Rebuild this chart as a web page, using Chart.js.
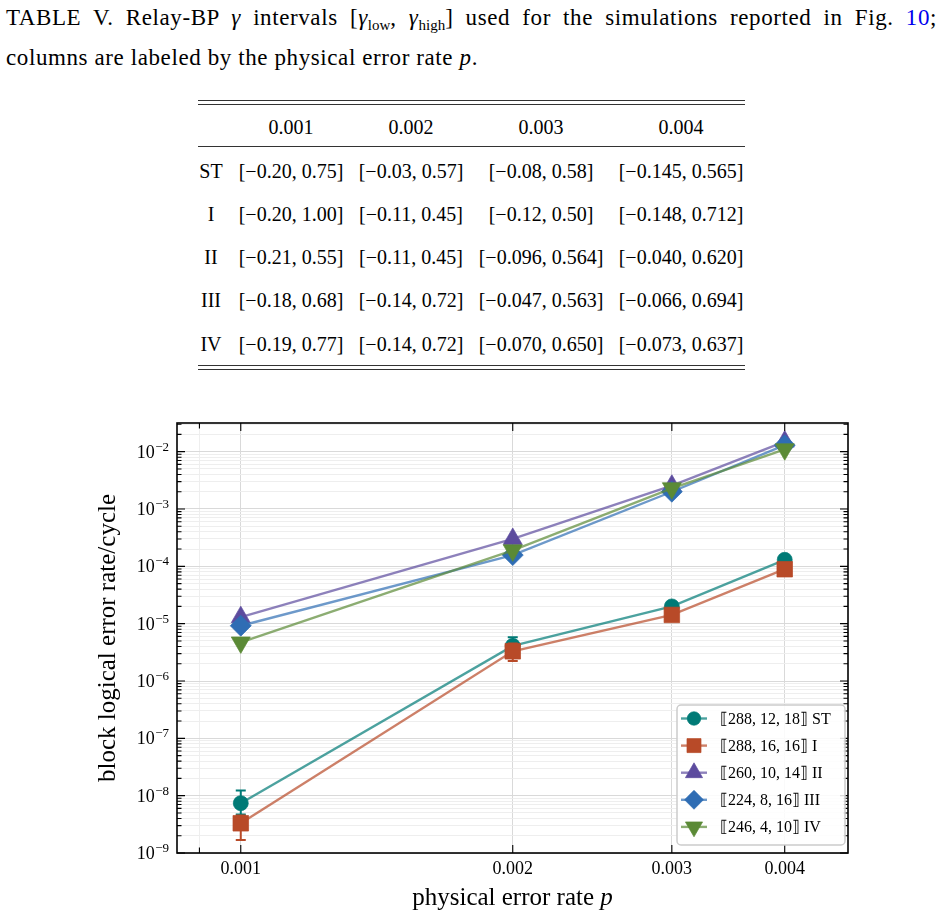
<!DOCTYPE html>
<html>
<head>
<meta charset="utf-8">
<script src="https://cdn.jsdelivr.net/npm/chart.js@4.4.1/dist/chart.umd.min.js"></script>
<style>
  html, body { margin: 0; padding: 0; background: #fff; }
  body { width: 943px; height: 916px; position: relative; overflow: hidden;
         font-family: "Liberation Serif", "DejaVu Serif", serif; color: #000; }
  .cap { position: absolute; left: 6px; width: 931px; font-size: 23px; line-height: 28px; letter-spacing: 0.6px; }
  #cap1 { top: 4px; text-align: justify; text-align-last: justify; }
  #cap2 { top: 44px; }
  .cap sub { font-size: 15px; vertical-align: -5px; line-height: 0; letter-spacing: 0; }
  .rule { position: absolute; left: 198px; width: 547px; height: 0; border-top: 1.3px solid #333; }
  .cell { position: absolute; transform: translate(-50%, -50%); font-size: 20px; white-space: nowrap; line-height: 1; }
  #plot { position: absolute; left: 0; top: 400px; }
</style>
</head>
<body>
<div class="cap" id="cap1">TABLE V. Relay-BP <i>γ</i> intervals [<i>γ</i><sub>low</sub>, <i>γ</i><sub>high</sub>] used for the simulations reported in Fig. <span style="color:#0000ee">10</span>;</div>
<div class="cap" id="cap2">columns are labeled by the physical error rate <i>p</i>.</div>
<div id="table"></div>
<canvas id="plot" width="943" height="516"></canvas>
<script>
// table V: gamma intervals per code, columns = physical error rate
const tableRates = ['0.001', '0.002', '0.003', '0.004'];
const tableCodes = ['ST', 'I', 'II', 'III', 'IV'];
const gammaST = ['[−0.20, 0.75]', '[−0.03, 0.57]', '[−0.08, 0.58]', '[−0.145, 0.565]'];
const gammaI = ['[−0.20, 1.00]', '[−0.11, 0.45]', '[−0.12, 0.50]', '[−0.148, 0.712]'];
const gammaII = ['[−0.21, 0.55]', '[−0.11, 0.45]', '[−0.096, 0.564]', '[−0.040, 0.620]'];
const gammaIII = ['[−0.18, 0.68]', '[−0.14, 0.72]', '[−0.047, 0.563]', '[−0.066, 0.694]'];
const gammaIV = ['[−0.19, 0.77]', '[−0.14, 0.72]', '[−0.070, 0.650]', '[−0.073, 0.637]'];

// Fig. data: block logical error rate per cycle vs physical error rate
const errorRates = [0.001, 0.002, 0.003, 0.004];
const seriesLabels = ['⟦288, 12, 18⟧ ST', '⟦288, 16, 16⟧ I', '⟦260, 10, 14⟧ II', '⟦224, 8, 16⟧ III', '⟦246, 4, 10⟧ IV'];
const rateST = [7.4e-9, 4.1e-6, 2.0e-5, 1.3e-4];
const rateSTLow = [4.7e-9, 3.0e-6, null, null];
const rateSTHigh = [1.23e-8, 5.8e-6, null, null];
const rateI = [3.3e-9, 3.3e-6, 1.42e-5, 8.9e-5];
const rateILow = [1.68e-9, 2.24e-6, null, null];
const rateIHigh = [4.5e-9, 4.5e-6, null, null];
const rateII = [1.3e-5, 3.0e-4, 2.55e-3, 1.5e-2];
const rateIII = [9.2e-6, 1.57e-4, 2.0e-3, 1.3e-2];
const rateIV = [4.7e-6, 1.9e-4, 2.3e-3, 1.1e-2];

const xTicks = [0.0009, 0.001, 0.002, 0.003, 0.004];
const xTickLabels = ['', '0.001', '0.002', '0.003', '0.004'];
const yDecades = [-9, -8, -7, -6, -5, -4, -3, -2];

const SERIF = '"Liberation Serif", "DejaVu Serif", serif';

function buildTable() {
  const host = document.getElementById('table');
  const colX = [211, 291, 411, 541, 681];
  const headY = 127;
  const rowY = [171, 214, 257, 300, 344];
  const rows = [gammaST, gammaI, gammaII, gammaIII, gammaIV];
  let html = '';
  [100, 103.5, 146, 365, 368.5].forEach((y) => {
    html += `<div class="rule" style="top:${y}px"></div>`;
  });
  tableRates.forEach((r, i) => {
    html += `<div class="cell" style="left:${colX[i + 1]}px;top:${headY}px">${r}</div>`;
  });
  tableCodes.forEach((c, j) => {
    html += `<div class="cell" style="left:${colX[0]}px;top:${rowY[j]}px">${c}</div>`;
    rows[j].forEach((g, i) => {
      html += `<div class="cell" style="left:${colX[i + 1]}px;top:${rowY[j]}px">${g}</div>`;
    });
  });
  host.innerHTML = html;
}

function isDecade(v) {
  const l = Math.log10(v);
  return Math.abs(l - Math.round(l)) < 1e-9;
}

function toPoints(ys) {
  return ys.map((y, i) => ({ x: errorRates[i], y: y }));
}

function rgba(hex, a) {
  const n = parseInt(hex.slice(1), 16);
  return `rgba(${(n >> 16) & 255}, ${(n >> 8) & 255}, ${n & 255}, ${a})`;
}

const yMin = 1e-9;
const yMax = Math.pow(10, -1.5);

const markerColors = ['#007a76', '#b84a28', '#5c4b9e', '#2f6db4', '#5b8a36'];
const pointStyles = ['circle', 'rect', 'triangle', 'rectRot', 'triangle'];
const pointRotations = [0, 0, 0, 0, 180];
const pointRadii = [7.5, 11, 11, 10.5, 11];
const seriesValues = [rateST, rateI, rateII, rateIII, rateIV];
const seriesLow = [rateSTLow, rateILow, null, null, null];
const seriesHigh = [rateSTHigh, rateIHigh, null, null, null];

// a marker drawer for the legend (same shapes Chart.js uses)
function drawMarker(ctx, style, rotation, radius, x, y) {
  if (Chart.helpers && Chart.helpers.drawPoint) {
    Chart.helpers.drawPoint(ctx, { pointStyle: style, rotation: rotation, radius: radius, borderWidth: 1 }, x, y);
    return;
  }
  ctx.beginPath();
  ctx.arc(x, y, radius, 0, Math.PI * 2);
  ctx.fill();
}

const plotDecor = {
  id: 'plotDecor',
  beforeDatasetDraw(chart, args) {
    // error bars under each series' own markers
    const ds = chart.data.datasets[args.index];
    if (!ds.errLow) return;
    const ctx = chart.ctx;
    const xs = chart.scales.x, ys = chart.scales.y;
    ctx.save();
    ctx.strokeStyle = ds.pointBackgroundColor;
    ctx.lineWidth = 2;
    ds.errLow.forEach((lo, j) => {
      if (lo == null) return;
      const x = xs.getPixelForValue(errorRates[j]);
      const y1 = ys.getPixelForValue(lo);
      const y2 = ys.getPixelForValue(ds.errHigh[j]);
      ctx.beginPath();
      ctx.moveTo(x, y1); ctx.lineTo(x, y2);
      ctx.moveTo(x - 5, y1); ctx.lineTo(x + 5, y1);
      ctx.moveTo(x - 5, y2); ctx.lineTo(x + 5, y2);
      ctx.stroke();
    });
    ctx.restore();
  },
  afterDatasetsDraw(chart) {
    const ctx = chart.ctx;
    const a = chart.chartArea;
    const xs = chart.scales.x, ys = chart.scales.y;
    ctx.save();
    // inward ticks on all four sides
    ctx.strokeStyle = '#000';
    ctx.lineWidth = 1.1;
    ctx.beginPath();
    xTicks.forEach((v) => {
      const x = xs.getPixelForValue(v);
      const len = v < 0.001 ? 5.5 : 8;
      ctx.moveTo(x, a.bottom); ctx.lineTo(x, a.bottom - len);
      ctx.moveTo(x, a.top); ctx.lineTo(x, a.top + len);
    });
    ys.ticks.forEach((t) => {
      const y = ys.getPixelForValue(t.value);
      const len = isDecade(t.value) ? 8 : 4.5;
      ctx.moveTo(a.left, y); ctx.lineTo(a.left + len, y);
      ctx.moveTo(a.right, y); ctx.lineTo(a.right - len, y);
    });
    ctx.stroke();
    // frame
    ctx.lineWidth = 1.6;
    ctx.strokeRect(a.left, a.top, a.right - a.left, a.bottom - a.top);
    ctx.restore();
  },
  afterDraw(chart) {
    const ctx = chart.ctx;
    const a = chart.chartArea;
    const ys = chart.scales.y;
    ctx.save();
    ctx.fillStyle = '#000';
    // y tick labels as 10^k
    yDecades.forEach((k) => {
      const y = ys.getPixelForValue(Math.pow(10, k));
      const right = a.left - 8;
      ctx.font = `13px ${SERIF}`;
      const sup = '−' + Math.abs(k);
      const supW = ctx.measureText(sup).width;
      ctx.textBaseline = 'alphabetic';
      ctx.textAlign = 'left';
      ctx.fillText(sup, right - supW, y - 1);
      ctx.font = `18px ${SERIF}`;
      const baseW = ctx.measureText('10').width;
      ctx.fillText('10', right - supW - baseW - 0.5, y + 6);
    });
    // x axis title with italic p
    ctx.font = `25px ${SERIF}`;
    const t1 = 'physical error rate ';
    const w1 = ctx.measureText(t1).width;
    ctx.font = `italic 25px ${SERIF}`;
    const w2 = ctx.measureText('p').width;
    const cx = (a.left + a.right) / 2;
    const x0 = cx - (w1 + w2) / 2;
    const by = a.bottom + 52;
    ctx.font = `25px ${SERIF}`;
    ctx.fillText(t1, x0, by);
    ctx.font = `italic 25px ${SERIF}`;
    ctx.fillText('p', x0 + w1, by);

    // legend inside lower right
    const boxR = a.right - 3, boxB = a.bottom - 8;
    const boxL = boxR - 168, boxT = boxB - 140;
    ctx.beginPath();
    if (ctx.roundRect) ctx.roundRect(boxL, boxT, boxR - boxL, boxB - boxT, 4);
    else ctx.rect(boxL, boxT, boxR - boxL, boxB - boxT);
    ctx.fillStyle = 'rgba(255,255,255,0.85)';
    ctx.fill();
    ctx.strokeStyle = '#cccccc';
    ctx.lineWidth = 1.5;
    ctx.stroke();
    chart.data.datasets.forEach((ds, i) => {
      const y = boxT + 13.5 + i * 27.1;
      const lx = boxL + 4;
      ctx.strokeStyle = ds.borderColor;
      ctx.lineWidth = 2.4;
      ctx.beginPath();
      ctx.moveTo(lx, y); ctx.lineTo(lx + 26, y);
      ctx.stroke();
      ctx.fillStyle = ds.pointBackgroundColor;
      ctx.strokeStyle = ds.pointBorderColor;
      ctx.lineWidth = 1;
      drawMarker(ctx, ds.pointStyle, ds.pointRotation, ds.pointRadius * 0.9, lx + 13, y);
      ctx.fillStyle = '#000';
      ctx.font = `16px ${SERIF}`;
      ctx.textBaseline = 'middle';
      ctx.textAlign = 'left';
      ctx.fillText(ds.label, boxL + 43, y + 1);
    });
    ctx.restore();
  }
};

function initChart() {
  const datasets = seriesValues.map((vals, i) => ({
    label: seriesLabels[i],
    data: toPoints(vals),
    borderColor: rgba(markerColors[i], 0.7),
    borderWidth: 2.4,
    pointBackgroundColor: markerColors[i],
    pointBorderColor: rgba(markerColors[i], 0.7),
    pointBorderWidth: 1,
    pointStyle: pointStyles[i],
    pointRotation: pointRotations[i],
    pointRadius: pointRadii[i],
    fill: false,
    tension: 0,
    order: 5 - i,
    errLow: seriesLow[i],
    errHigh: seriesHigh[i],
  }));

  const yGridTicks = [];
  yDecades.forEach((k) => {
    for (let m = 1; m <= 9; m++) {
      const v = m * Math.pow(10, k);
      if (v <= yMax) yGridTicks.push(v);
    }
  });

  new Chart(document.getElementById('plot'), {
    type: 'line',
    data: { datasets: datasets },
    options: {
      responsive: false,
      animation: false,
      devicePixelRatio: 1,
      layout: { padding: { left: 96, right: 95, top: 23, bottom: 0 } },
      plugins: { legend: { display: false }, tooltip: { enabled: false } },
      scales: {
        x: {
          type: 'logarithmic',
          min: 0.00085,
          max: 0.0047,
          afterBuildTicks: (s) => { s.ticks = xTicks.map((v) => ({ value: v })); },
          afterFit: (s) => { s.height = 63; },
          grid: {
            drawTicks: false,
            color: (c) => (c.tick && c.tick.value < 0.00099 ? '#eeeeee' : '#d9d9d9'),
            lineWidth: 1,
          },
          border: { display: false },
          ticks: {
            autoSkip: false,
            maxRotation: 0,
            padding: 5,
            color: '#000',
            font: { family: SERIF, size: 18 },
            callback: (v) => {
              const i = xTicks.findIndex((t) => Math.abs(t - v) < 1e-12);
              return i >= 0 ? xTickLabels[i] : '';
            },
          },
        },
        y: {
          type: 'logarithmic',
          min: yMin,
          max: yMax,
          afterBuildTicks: (s) => { s.ticks = yGridTicks.map((v) => ({ value: v })); },
          afterFit: (s) => { s.width = 81; },
          grid: {
            drawTicks: false,
            color: (c) => (c.tick && isDecade(c.tick.value) ? '#d9d9d9' : '#eeeeee'),
            lineWidth: 1,
          },
          border: { display: false },
          ticks: { display: false },
          title: {
            display: true,
            text: 'block logical error rate/cycle',
            color: '#000',
            font: { family: SERIF, size: 25, lineHeight: 1 },
            padding: { top: 0, bottom: 0 },
          },
        },
      },
    },
    plugins: [plotDecor],
  });
}

document.addEventListener('DOMContentLoaded', () => {
  buildTable();
  initChart();
});
</script>
</body>
</html>
